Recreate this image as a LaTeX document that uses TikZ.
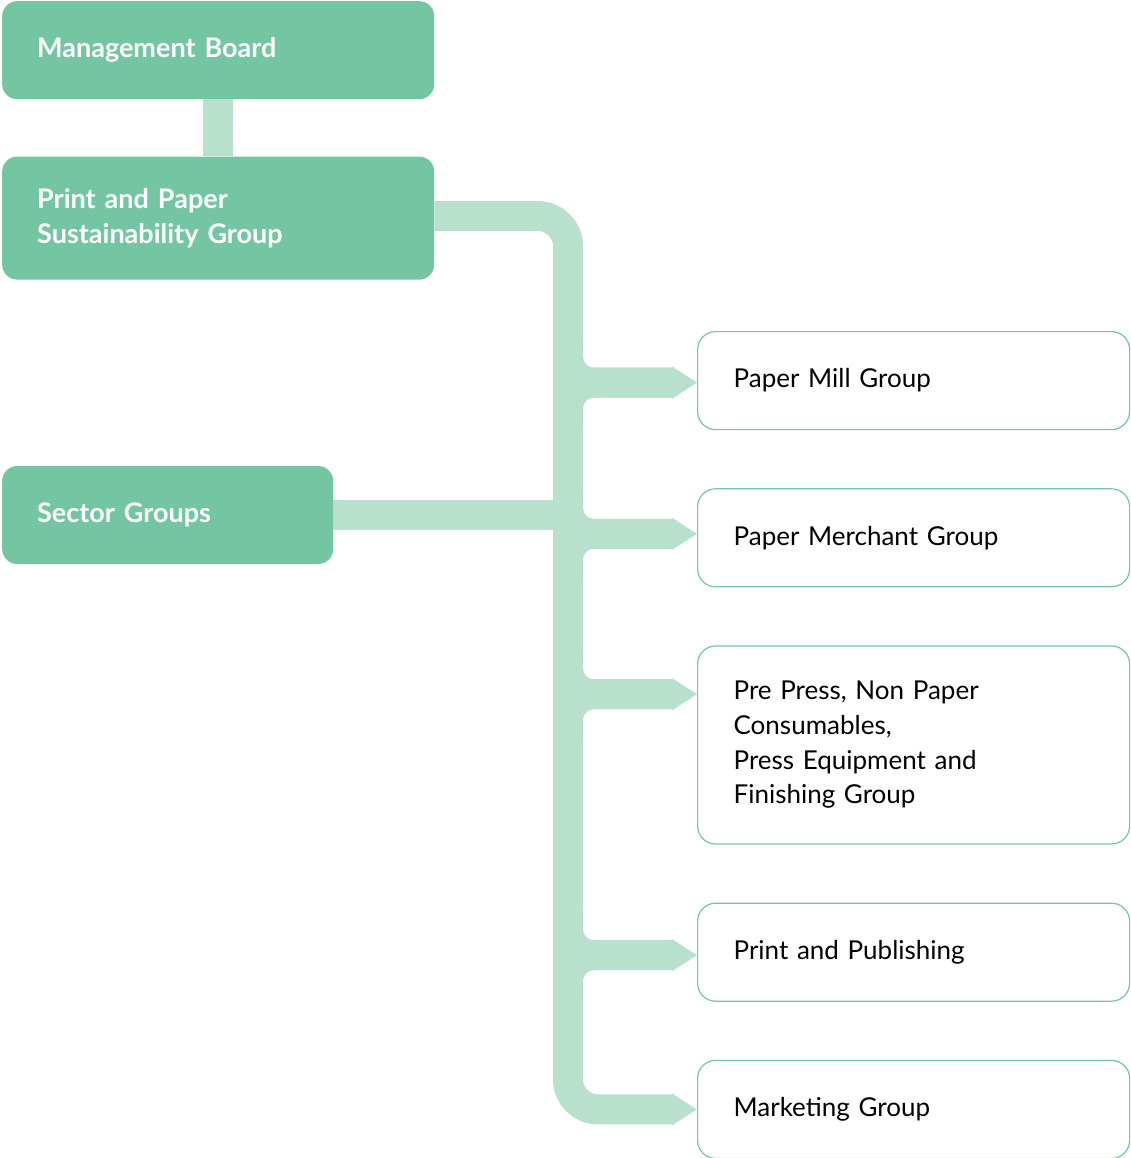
\documentclass[tikz,border=0pt]{standalone}
\usepackage{fontspec}
\setmainfont{Lato}
\usetikzlibrary{positioning,arrows.meta,calc}
\definecolor{boardgreen}{HTML}{74C6A2}
\definecolor{linkgreen}{HTML}{B9E0CD}
\tikzset{
    lead box/.style = {
        fill = boardgreen,
        text = white,
        font = \bfseries\fontsize{27}{35}\selectfont,
        rounded corners = 15pt,
        align = left,
        inner xsep = 35pt,
        minimum height = 98pt,
        },
    group box/.style = {
        draw = boardgreen,
        line width = 1.2pt,
        font = \fontsize{26}{34.7}\selectfont,
        rounded corners = 18pt,
        align = left,
        inner xsep = 36pt,
        text width = 360pt,
        minimum height = 98pt,
        },
    link/.style = {
        draw = linkgreen,
        line width = 30pt,
        },
    tip/.style = {
        -{Triangle[length=25pt, width=30pt]},
        },
}

\begin{document}
\begin{tikzpicture}[x=1pt, y=-1pt]
            \useasboundingbox (0,0) rectangle (1130,1158);

            \node[lead box, text width=362pt, anchor=north west] (mb) at (2,1) {Management Board};
            \node[lead box, text width=362pt, minimum height=123pt, below=57pt of mb] (ppsg) {Print and Paper\\Sustainability Group};
            \node[lead box, text width=261pt, below=186pt of ppsg.south west, anchor=north west] (sector) {Sector Groups};

            \node[group box, anchor=north west] (mill) at (697,331) {Paper Mill Group};
            \node[group box, below=58pt of mill] (merchant) {Paper Merchant Group};
            \node[group box, minimum height=198pt, below=58pt of merchant] (prepress) {Pre Press, Non Paper\\Consumables,\\Press Equipment and\\Finishing Group};
            \node[group box, below=58pt of prepress] (publishing) {Print and Publishing};
            \node[group box, below=58pt of publishing] (marketing) {Marketing Group};

            \coordinate (spine) at (568,0);
            \coordinate (ppsg out) at ($(ppsg.east)+(0,-2)$);

            \draw[link] (mb.south) -- (ppsg.north);
            \draw[link] (sector.east) -- (spine |- sector.east);
            % branches to the sector groups
            \foreach \g/\p in {mill/.52, merchant/.46, prepress/.245, publishing/.53} {
                \coordinate (\g in) at ($(\g.north west)!\p!(\g.south west)$);
                \draw[link, rounded corners=26pt, tip] (spine |- \g in) ++(0,-45) |- (\g in);
                \draw[link, rounded corners=26pt, tip] (spine |- \g in) ++(0,45) |- (\g in);
            }
            \draw[link, rounded corners=30pt, tip] (ppsg out) -| (spine |- marketing.west) -- (marketing.west);
        \end{tikzpicture}
\end{document}
